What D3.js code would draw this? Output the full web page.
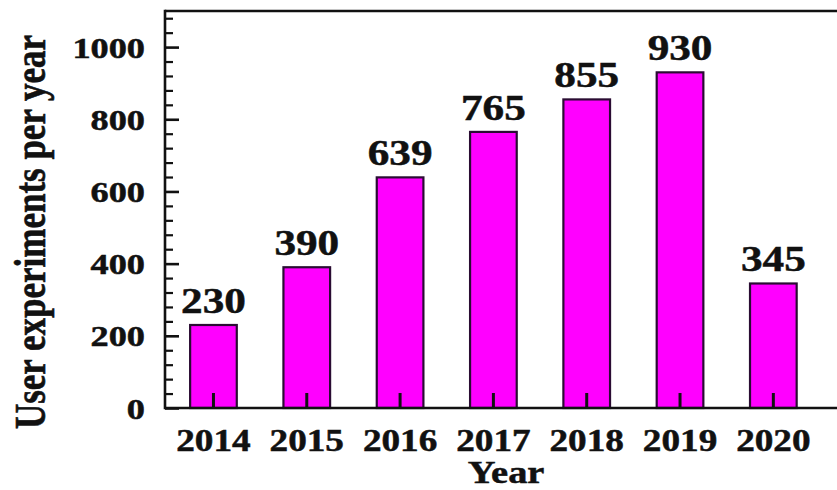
<!DOCTYPE html>
<html>
<head>
<meta charset="utf-8">
<script src="https://cdn.jsdelivr.net/npm/d3@7"></script>
<style>
  html, body { margin: 0; padding: 0; background: #fff; }
  svg { display: block; }
  text { font-family: "Liberation Serif", "Times New Roman", serif; font-weight: bold; fill: #111; stroke: #111; stroke-width: 0.5px; }
</style>
</head>
<body>
<svg id="chart" width="837" height="490"></svg>
<script>
// ---- data ----
const years = ["2014", "2015", "2016", "2017", "2018", "2019", "2020"];
const experiments = [230, 390, 639, 765, 855, 930, 345];
const yMajorTicks = [0, 200, 400, 600, 800, 1000];
const yMinorTicks = d3.range(0, 1100, 40).filter(v => v % 200 !== 0);

const xAxisTitle = "Year";
const yAxisTitle = "User experiments per year";

// ---- layout ----
const plotLeft = 165, plotTop = 11, plotBottom = 408, plotRight = 837;
const stretch = 1.2;
const ink = "#111";

const svg = d3.select("#chart");

const x = d3.scaleBand()
  .domain(years)
  .range([166.8, 820])
  .paddingInner(0.5)
  .paddingOuter(0.25);

const y = d3.scaleLinear()
  .domain([0, 1100])
  .range([plotBottom, plotTop]);

const rows = years.map((yr, i) => ({ yr, v: experiments[i] }));

// bars
svg.append("g").selectAll("rect")
  .data(rows)
  .join("rect")
  .attr("x", d => x(d.yr))
  .attr("y", d => y(d.v))
  .attr("width", x.bandwidth())
  .attr("height", d => plotBottom - y(d.v))
  .attr("fill", "#ff00ff")
  .attr("stroke", "#2a0c33")
  .attr("stroke-width", 2.2);

// value labels
svg.append("g").selectAll("text")
  .data(rows)
  .join("text")
  .attr("transform", d => `translate(${x(d.yr) + x.bandwidth() / 2},${y(d.v) - 12}) scale(${stretch},1)`)
  .attr("text-anchor", "middle")
  .style("font-size", "36px")
  .text(d => d.v);

// y axis minor ticks
const yMinor = svg.append("g")
  .attr("transform", `translate(${plotLeft},0)`)
  .call(d3.axisLeft(y).tickValues(yMinorTicks).tickSize(-8).tickFormat(""));
yMinor.select(".domain").remove();
yMinor.selectAll("line").attr("stroke", ink).attr("stroke-width", 2.2);

// y axis major ticks + labels
const yMajor = svg.append("g")
  .attr("transform", `translate(${plotLeft},0)`)
  .call(d3.axisLeft(y).tickValues(yMajorTicks).tickFormat(d3.format("d")).tickSize(-14).tickPadding(20));
yMajor.select(".domain").remove();
yMajor.selectAll("line").attr("stroke", ink).attr("stroke-width", 2.6);
yMajor.selectAll("text")
  .attr("x", 0)
  .attr("dy", "0.34em")
  .attr("transform", `translate(-20,0) scale(1.23,1)`)
  .style("font-size", "29.5px")
  .style("font-family", "'Liberation Serif', serif")
  .style("font-weight", "bold")
  .attr("fill", ink);

// x axis
const xAxis = svg.append("g")
  .attr("transform", `translate(0,${plotBottom})`)
  .call(d3.axisBottom(x).tickSize(-15).tickPadding(20));
xAxis.select(".domain").remove();
xAxis.selectAll("line").attr("stroke", ink).attr("stroke-width", 3);
xAxis.selectAll("text")
  .attr("y", 0)
  .attr("dy", "0")
  .attr("transform", `translate(0,43) scale(${stretch},1)`)
  .style("font-size", "31px")
  .style("font-family", "'Liberation Serif', serif")
  .style("font-weight", "bold")
  .attr("fill", ink);

// frame lines
const frame = svg.append("g").attr("stroke", ink).attr("stroke-width", 2.6).attr("fill", "none");
frame.append("line").attr("x1", plotLeft).attr("x2", plotRight).attr("y1", plotTop).attr("y2", plotTop);
frame.append("line").attr("x1", plotLeft).attr("x2", plotRight).attr("y1", plotBottom).attr("y2", plotBottom);
frame.append("line").attr("x1", plotLeft).attr("x2", plotLeft).attr("y1", plotTop - 1.3).attr("y2", plotBottom + 1.3);

// axis titles
svg.append("text")
  .attr("transform", `translate(${(plotLeft + plotRight) / 2 + 5},483) scale(${stretch},1)`)
  .attr("text-anchor", "middle")
  .style("font-size", "32px")
  .text(xAxisTitle);

svg.append("text")
  .attr("transform", `translate(45,232) scale(1.28,1) rotate(-90)`)
  .attr("text-anchor", "middle")
  .style("font-size", "35px")
  .text(yAxisTitle);
</script>
</body>
</html>
